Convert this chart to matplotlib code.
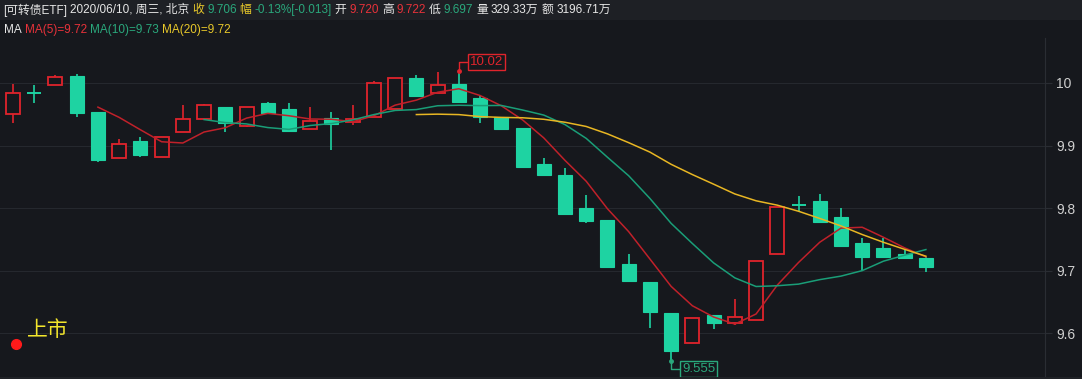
import numpy as np
import pandas as pd
import matplotlib
matplotlib.use("Agg")
import matplotlib.pyplot as plt
from matplotlib.patches import Rectangle
from matplotlib.lines import Line2D

W, H = 1082, 379

# daily OHLC, first day = listing day
opens = [9.950, 9.984, 9.997, 10.011, 9.954, 9.880, 9.907, 9.882, 9.922, 9.942,
         9.962, 9.931, 9.968, 9.958, 9.926, 9.944, 9.938, 9.946, 9.958, 10.008,
         9.984, 9.998, 9.976, 9.946, 9.928, 9.870, 9.853, 9.800, 9.781, 9.710,
         9.682, 9.632, 9.584, 9.629, 9.616, 9.621, 9.726, 9.805, 9.811, 9.786,
         9.744, 9.736, 9.726, 9.720]
highs = [9.998, 9.997, 10.013, 10.014, 9.954, 9.910, 9.914, 9.914, 9.965, 9.966,
         9.962, 9.962, 9.970, 9.968, 9.962, 9.954, 9.965, 10.003, 10.008, 10.013,
         10.018, 10.020, 9.981, 9.946, 9.928, 9.880, 9.864, 9.821, 9.781, 9.726,
         9.682, 9.632, 9.624, 9.629, 9.654, 9.715, 9.802, 9.819, 9.822, 9.800,
         9.752, 9.752, 9.734, 9.722]
lows = [9.936, 9.968, 9.997, 9.946, 9.874, 9.880, 9.882, 9.882, 9.922, 9.942,
        9.922, 9.930, 9.952, 9.922, 9.926, 9.893, 9.933, 9.946, 9.958, 9.979,
        9.984, 9.968, 9.936, 9.926, 9.866, 9.853, 9.790, 9.776, 9.706, 9.683,
        9.608, 9.555, 9.584, 9.606, 9.613, 9.621, 9.726, 9.794, 9.778, 9.739,
        9.699, 9.722, 9.720, 9.697]
closes = [9.984, 9.984, 10.010, 9.952, 9.877, 9.902, 9.885, 9.914, 9.942, 9.965,
          9.936, 9.962, 9.952, 9.923, 9.939, 9.934, 9.942, 10.000, 10.008, 9.979,
          9.997, 9.970, 9.946, 9.926, 9.866, 9.853, 9.790, 9.779, 9.706, 9.683,
          9.634, 9.571, 9.624, 9.616, 9.626, 9.715, 9.802, 9.805, 9.778, 9.739,
          9.722, 9.722, 9.720, 9.706]

ma_windows = [5, 10, 20]
yticks = [9.6, 9.7, 9.8, 9.9, 10.0]
ytick_labels = ["9.6", "9.7", "9.8", "9.9", "10"]

header = [(2, "[可转债ETF]", "w"), (54, "2020/06/10, 周三, 北京", "w"),
          (152, "收", "y"), (163, "9.706", "g"), (190, "幅", "y"),
          (201, "-0.13%[-0.013]", "g"), (268, "开", "w"), (278, "9.720", "r"),
          (306, "高", "w"), (317, "9.722", "r"), (345, "低", "w"),
          (355, "9.697", "g"), (384, "量", "w"), (393, "329.33万", "w"),
          (436, "额", "w"), (446, "3196.71万", "w")]
ma_legend = [(4, "MA", "w"), (24, "MA(5)=9.72", "r"), (82, "MA(10)=9.73", "g"),
             (147, "MA(20)=9.72", "y")]

bg = "#16181d"
red = "#e0242c"
green = "#1ed3a2"
ma_colors = ["#c0212a", "#1a9e78", "#e8b623"]
txt = {"w": "#e6e6e6", "r": "#e8323a", "g": "#2aa87c", "y": "#e8c82a"}

plt.rcParams['font.family'] = ['Liberation Sans', 'Noto Sans CJK SC', 'DejaVu Sans']

fig = plt.figure(figsize=(W / 100, H / 100), dpi=100, facecolor=bg)
fig.patches.append(Rectangle((0, 1 - 20 / H), 1, 20 / H, transform=fig.transFigure,
                             fc="#1e2025", ec="none", zorder=0))

ax = fig.add_axes([0, 1 - 377 / H, 1045 / W, (377 - 38) / H])
ax.set_facecolor(bg)
step = 21.23
ax.set_xlim(-13 / step, (1045 - 13) / step)
ax.set_ylim(10 - (377 - 83) / 625, 10 + (83 - 38) / 625)

w = 0.66
for i, (o, h, l, c) in enumerate(zip(opens, highs, lows, closes)):
    if c > o:
        ax.vlines(i, c, h, color=red, lw=1.2, zorder=3)
        ax.vlines(i, l, o, color=red, lw=1.2, zorder=3)
        ax.add_patch(Rectangle((i - w / 2, o), w, c - o, fc=bg, ec=red, lw=1.3, zorder=3))
    elif c < o:
        ax.vlines(i, l, h, color=green, lw=1.2, zorder=3)
        ax.add_patch(Rectangle((i - w / 2, c), w, o - c, fc=green, ec=green, lw=0.8, zorder=3))
    else:
        ax.vlines(i, l, h, color=green, lw=1.2, zorder=3)
        ax.hlines(c, i - w / 2, i + w / 2, color=green, lw=1.4, zorder=3)

s = pd.Series(closes)
for n, col in zip(ma_windows, ma_colors):
    ax.plot(np.arange(len(closes)), s.rolling(n).mean(), color=col, lw=1.1, zorder=4)

# max / min markers
imax = int(np.argmax(highs))
imin = int(np.argmin(lows))
for idx, val, dy, col in [(imax, highs[imax], 8.5, red), (imin, lows[imin], -8, "#2aa87c")]:
    ax.plot(idx, val, "o", ms=2.5, color=col, zorder=5)
    ax.annotate(f"{val:g}", xy=(idx, val), xytext=(11, dy), textcoords="offset pixels",
                ha="left", va="center", color=col, fontsize=9.5,
                bbox=dict(boxstyle="square,pad=0.15", fc=bg, ec=col, lw=1),
                arrowprops=dict(arrowstyle="-", color=col, lw=1, shrinkA=0, shrinkB=0,
                                connectionstyle="angle,angleA=0,angleB=90,rad=0"),
                zorder=6)

ax.grid(axis="y", color="#25282e", lw=0.8, zorder=0)
ax.set_xticks([])
ax.yaxis.tick_right()
ax.set_yticks(yticks)
ax.set_yticklabels(ytick_labels)
ax.tick_params(axis="y", colors="#cfcfcf", labelsize=10, length=5, width=0.8, pad=3)
ax.tick_params(axis="y", color="#2a2d33")
for k in ["top", "left", "bottom"]:
    ax.spines[k].set_visible(False)
ax.spines["right"].set_color("#2a2d33")

fig.patches.append(Rectangle((0, 0), 1, 2 / H, transform=fig.transFigure,
                             fc="#202227", ec="none", zorder=0))

# header rows: keep reference positions, push right when the previous text is wider
renderer = fig.canvas.get_renderer()
for rows, ypix in [(header, 10), (ma_legend, 30)]:
    end = 0
    for x, t, c in rows:
        x = max(x, end + 3)
        tt = fig.text(x / W, 1 - ypix / H, t, color=txt[c], fontsize=8.5,
                      va="center", ha="left")
        end = tt.get_window_extent(renderer).x1

fig.text(27 / W, 1 - 330 / H, "上市", color="#f2e52c", fontsize=15, va="center", ha="left",
         family=["Noto Sans CJK SC"])
fig.add_artist(Line2D([16 / W], [1 - 344 / H], marker="o", ms=7, color="#ff1a1a",
                      transform=fig.transFigure))

fig.savefig("out.png", dpi=100, facecolor=bg)
